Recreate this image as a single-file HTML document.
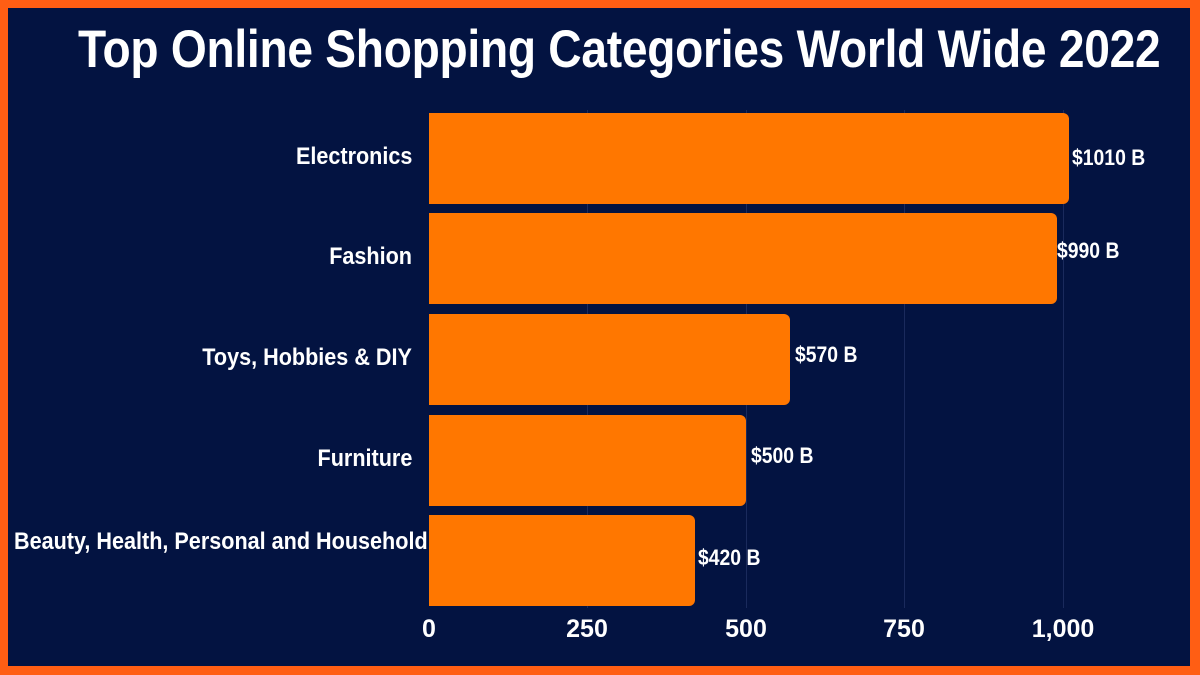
<!DOCTYPE html>
<html><head><meta charset="utf-8"><style>
html,body{margin:0;padding:0}
body{width:1200px;height:675px;background:#ff5e14;position:relative;overflow:hidden;font-family:"Liberation Sans",sans-serif;font-weight:bold;color:#fff}
#bg{position:absolute;left:8px;top:8px;width:1182px;height:658px;background:#031341}
.t{position:absolute;white-space:nowrap;line-height:1}
.bar{position:absolute;left:429px;height:91px;background:#ff7700;border-radius:0 6px 6px 0}
.g{position:absolute;top:110px;height:498px;width:1px;background:#1a2a5c}
.lab{position:absolute;right:788px;font-size:24px;transform:scaleX(0.9);transform-origin:right center;white-space:nowrap;line-height:1}
.val{position:absolute;font-size:22px;transform:scaleX(0.88);transform-origin:left center;white-space:nowrap;line-height:1}
.tick{position:absolute;top:617px;font-size:25px;width:100px;margin-left:-50px;text-align:center;line-height:1}
</style></head><body>
<div id="bg"></div>
<div class="t" style="left:78px;top:23px;font-size:53px;transform:scaleX(0.87);transform-origin:left top;letter-spacing:-0.3px">Top Online Shopping Categories World Wide 2022</div>
<div class="g" style="left:587px"></div><div class="g" style="left:746px"></div><div class="g" style="left:904px"></div><div class="g" style="left:1063px"></div>
<div class="bar" style="top:113px;width:640px"></div>
<div class="bar" style="top:213px;width:628px"></div>
<div class="bar" style="top:314px;width:361px"></div>
<div class="bar" style="top:415px;width:317px"></div>
<div class="bar" style="top:515px;width:266px"></div>
<div class="lab" style="top:145px">Electronics</div>
<div class="lab" style="top:245px">Fashion</div>
<div class="lab" style="top:346px">Toys, Hobbies &amp; DIY</div>
<div class="lab" style="top:447px">Furniture</div>
<div class="lab" style="top:530px;right:772px">Beauty, Health, Personal and Household</div>
<div class="val" style="left:1072px;top:147px">$1010 B</div>
<div class="val" style="left:1057px;top:240px">$990 B</div>
<div class="val" style="left:795px;top:344px">$570 B</div>
<div class="val" style="left:751px;top:445px">$500 B</div>
<div class="val" style="left:698px;top:547px">$420 B</div>
<div class="tick" style="left:429px">0</div>
<div class="tick" style="left:587px">250</div>
<div class="tick" style="left:746px">500</div>
<div class="tick" style="left:904px">750</div>
<div class="tick" style="left:1063px">1,000</div>
</body></html>
